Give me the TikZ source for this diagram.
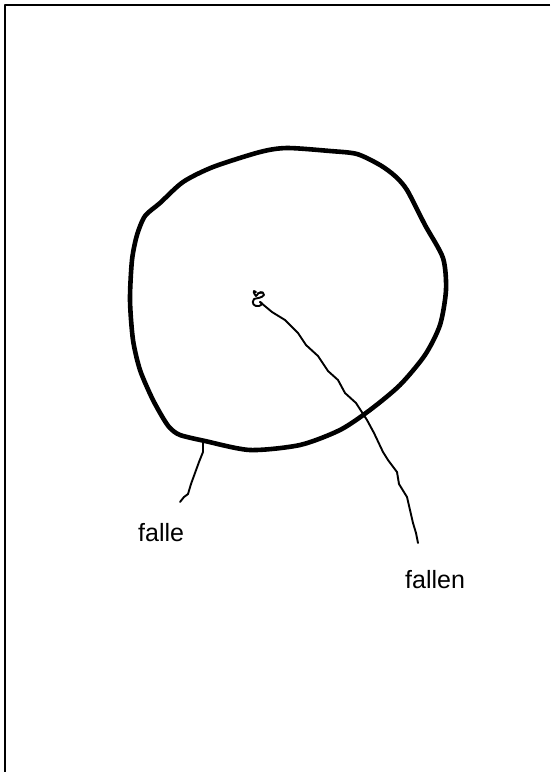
\documentclass[tikz,border=0pt]{standalone}
\usepackage{fontspec}
\setmainfont{Liberation Sans}
\begin{document}
\begin{tikzpicture}[x=1pt, y=-1pt, line cap=round, line join=round,
    sketch/.style={line width=1.9pt},
    ring/.style={line width=4.6pt},
    word/.style={font=\fontsize{25}{30}\selectfont, inner sep=0pt, anchor=base west}]
    \useasboundingbox (0,0) rectangle (550,772);
    % Open frame along the top and left edges of the sheet.
    \draw[line width=2pt, line cap=butt] (550,5) -- (4.5,5) -- (4.5,772);
    % The freehand ring.
    \draw[ring] plot[smooth cycle, tension=0.45] coordinates {
      (287,148) (330,151) (357,154) (380,165) (395,176)
      (407,190) (425,225) (443,258) (446,290) (440,325) (425,355)
      (400,385) (370,410) (340,430) (300,445) (250,450) (205,441)
      (180,435) (170,428) (163,418) (152,398) (140,370) (133,340)
      (130,300) (132,260) (137,235) (145,216) (160,203)
      (183,182) (213,167) (260,152)};
    % Small scribble at the centre.
    \coordinate (core) at (260,302);
    \draw[sketch] (256,292) .. controls (252,289) and (254,294) .. (256,296)
      .. controls (259,292) and (263,290) .. (264,295)
      .. controls (262,298) and (257,298) .. (254,299)
      .. controls (251,303) and (254,307) .. (259,306)
      .. controls (262,305) and (263,303) .. (core);
    \fill (258,293) circle (1pt) (261,293) circle (1pt);
    % Lines running out to the two words.
    \coordinate (ringfoot) at (203,440);
    \coordinate (endA) at (180,502);
    \coordinate (endB) at (418,543);
    \draw[sketch] (core) -- (272,312) -- (285,320) -- (298,333) -- (306,345)
      -- (318,356) -- (328,371) -- (338,380) -- (345,393) -- (356,403)
      -- (367,420) -- (374,433) -- (383,452) -- (388,460) -- (397,472)
      -- (399,484) -- (407,497) -- (410,510) -- (413,523) -- (416,533) -- (endB);
    \draw[sketch] (ringfoot) -- (203,452) -- (199,462) -- (195,473)
      -- (191,484) -- (188,494) -- (184,497) -- (endA);
    \node[word] (falle) at (138,541) {falle};
    \node[word] (fallen) at (405,588) {fallen};
\end{tikzpicture}
\end{document}
